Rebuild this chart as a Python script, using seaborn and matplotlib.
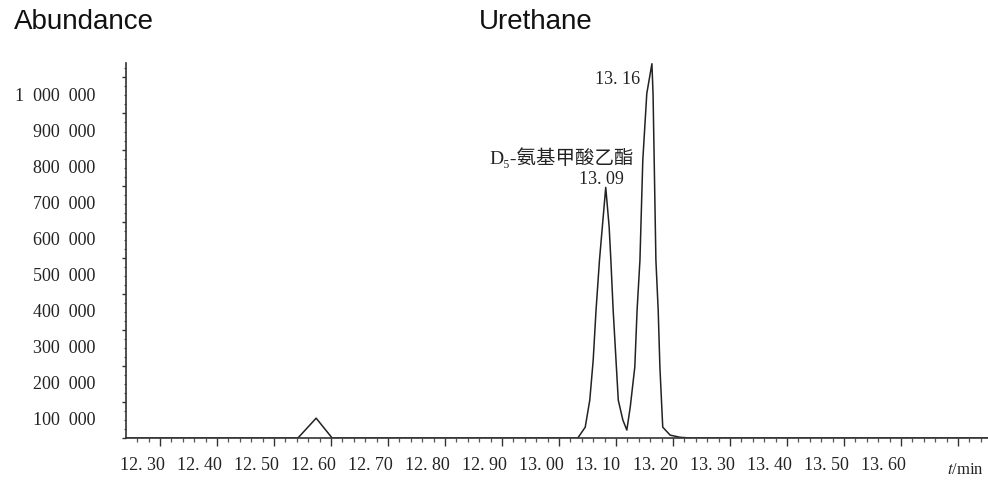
import matplotlib
matplotlib.use("Agg")
import matplotlib.pyplot as plt
import seaborn as sns
import pandas as pd
from matplotlib import transforms
from matplotlib.ticker import MultipleLocator

# ---- data ----
time_min = [12.240, 12.542, 12.574, 12.602, 13.033, 13.046, 13.054, 13.060,
            13.065, 13.071, 13.076, 13.082, 13.088, 13.091, 13.095, 13.104,
            13.112, 13.119, 13.125, 13.133, 13.137, 13.142, 13.147, 13.154,
            13.163, 13.165, 13.167, 13.170, 13.174, 13.177, 13.182, 13.195,
            13.212, 13.230, 13.753]
abundance = [0, 0, 55000, 0, 0, 30000, 105000, 216000,
             355000, 493000, 585000, 695000, 585000, 493000, 355000, 105000,
             50000, 22000, 86000, 197000, 355000, 493000, 770000, 955000,
             1038000, 955000, 770000, 493000, 355000, 197000, 30000, 8000,
             2000, 0, 0]

x_ticks = [12.30, 12.40, 12.50, 12.60, 12.70, 12.80, 12.90, 13.00, 13.10,
           13.20, 13.30, 13.40, 13.50, 13.60, 13.70]
x_tick_labels = ["12. 30", "12. 40", "12. 50", "12. 60", "12. 70", "12. 80",
                 "12. 90", "13. 00", "13. 10", "13. 20", "13. 30", "13. 40",
                 "13. 50", "13. 60", ""]
y_ticks = [0, 100000, 200000, 300000, 400000, 500000, 600000, 700000,
           800000, 900000, 1000000]
y_tick_labels = ["", "100  000", "200  000", "300  000", "400  000",
                 "500  000", "600  000", "700  000", "800  000", "900  000",
                 "1  000  000"]

peak_labels = ["13. 16", "13. 09"]
compound_label = "D₅-氨基甲酸乙酯"

sns.set_style("ticks")
plt.rcParams["font.family"] = ["Liberation Serif", "Noto Sans CJK SC", "DejaVu Sans"]
plt.rcParams["mathtext.fontset"] = "stix"

W, H = 988, 490
fig = plt.figure(figsize=(W / 100, H / 100), dpi=100)
ax = fig.add_axes([126 / W, 52 / H, 862 / W, 375 / H])

df = pd.DataFrame({"t": time_min, "a": abundance})
sns.lineplot(data=df, x="t", y="a", ax=ax, color="#222222", linewidth=1.1,
             estimator=None, sort=False)

ax.set_xlim(12.2404, 13.7526)
ax.set_ylim(0, 1040000)
ax.set_xlabel("")
ax.set_ylabel("")

for s in ["top", "right"]:
    ax.spines[s].set_visible(False)
for s in ["left", "bottom"]:
    ax.spines[s].set_linewidth(1.2)
    ax.spines[s].set_color("#333333")

ax.set_xticks(x_ticks, labels=x_tick_labels)
ax.set_yticks(y_ticks, labels=y_tick_labels)
ax.xaxis.set_minor_locator(MultipleLocator(0.02))
ax.yaxis.set_minor_locator(MultipleLocator(25000))

ax.tick_params(axis="x", which="major", length=5.5, width=1.0, color="#333333",
               direction="out", pad=8, labelsize=13, labelcolor="#222222")
ax.tick_params(axis="x", which="minor", length=3, width=0.9, color="#555555",
               direction="out")
ax.tick_params(axis="y", which="major", length=3, width=1.0, color="#333333",
               direction="out", pad=19, labelsize=13, labelcolor="#222222")
ax.tick_params(axis="y", which="minor", length=1.5, width=0.8, color="#555555",
               direction="out")

# the scanned labels sit shifted relative to their ticks
dx = transforms.ScaledTranslation(-18 / 100, 0, fig.dpi_scale_trans)
for lab in ax.get_xticklabels():
    lab.set_transform(lab.get_transform() + dx)
dy = transforms.ScaledTranslation(0, -17 / 100, fig.dpi_scale_trans)
for lab in ax.get_yticklabels():
    lab.set_transform(lab.get_transform() + dy)

# titles
fig.text(14 / W, 1 - 29 / H, "Abundance", family="Liberation Sans",
         fontsize=20, ha="left", va="baseline", color="#111111")
fig.text(479 / W, 1 - 29 / H, "Urethane", family="Liberation Sans",
         fontsize=20, ha="left", va="baseline", color="#111111")

# peak annotations
fig.text(640 / W, 1 - 79 / H, peak_labels[0], fontsize=13, ha="right",
         va="center", color="#222222")
fig.text(601 / W, 1 - 180 / H, peak_labels[1], fontsize=13, ha="center",
         va="center", color="#222222")
fig.text(562 / W, 1 - 158 / H, compound_label, fontsize=14, ha="center",
         va="center", color="#222222",
         family=["Liberation Serif", "Noto Sans CJK SC", "DejaVu Sans"])

fig.text(947 / W, 1 - 470 / H, "$t$/min", fontsize=12, ha="left",
         va="center", color="#222222")

fig.savefig("out.png", dpi=100)
